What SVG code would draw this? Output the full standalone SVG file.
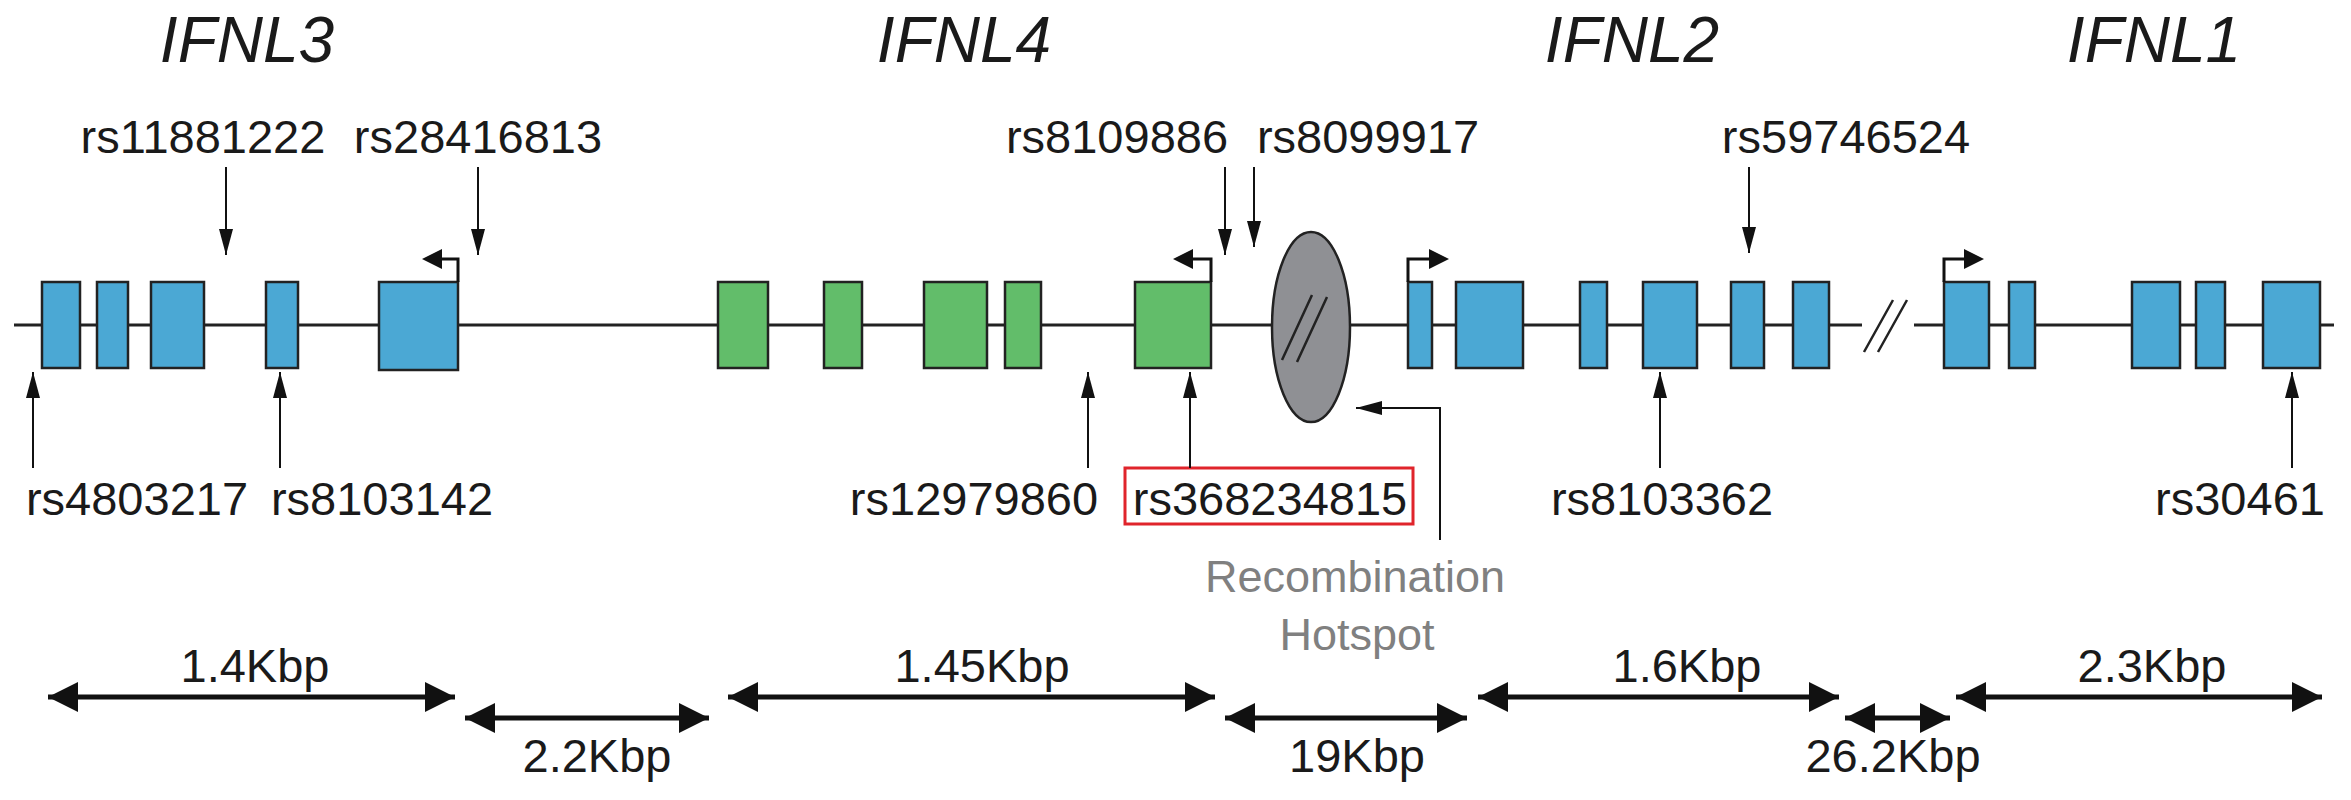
<svg xmlns="http://www.w3.org/2000/svg" width="2351" height="800" viewBox="0 0 2351 800">
<defs>
<marker id="ah" viewBox="0 0 26 14" refX="26" refY="7" markerWidth="26" markerHeight="14" markerUnits="userSpaceOnUse" orient="auto-start-reverse"><path d="M0,0L26,7L0,14z" fill="#111"/></marker>
<marker id="dh" viewBox="0 0 10 10" refX="10" refY="5" markerWidth="6" markerHeight="7" orient="auto-start-reverse"><path d="M0,0L10,5L0,10z" fill="#111"/></marker>
<marker id="ph" viewBox="0 0 10 10" refX="8" refY="5" markerWidth="20" markerHeight="20" markerUnits="userSpaceOnUse" orient="auto"><path d="M0,0L10,5L0,10z" fill="#111"/></marker>
</defs>
<style>
.b{fill:#4ba8d4;stroke:#222;stroke-width:2.5}
.g{fill:#62bd6a;stroke:#222;stroke-width:2.5}
.t{font-family:"Liberation Sans",Arial,sans-serif;font-size:47px;fill:#1a1a1a}
.h{font-family:"Liberation Sans",Arial,sans-serif;font-size:64px;font-style:italic;fill:#1a1a1a}
.gr{font-family:"Liberation Sans",Arial,sans-serif;font-size:45px;fill:#808080}
.a{stroke:#111;stroke-width:2;fill:none;marker-end:url(#ah)}
.d{stroke:#111;stroke-width:5;fill:none;marker-start:url(#dh);marker-end:url(#dh)}
.p{stroke:#111;stroke-width:3;fill:none;marker-end:url(#ph)}
</style>
<g id="titles">
<text class="h" x="247" y="62" text-anchor="middle">IFNL3</text>
<text class="h" x="964" y="62" text-anchor="middle">IFNL4</text>
<text class="h" x="1632" y="62" text-anchor="middle">IFNL2</text>
<text class="h" x="2154" y="62" text-anchor="middle">IFNL1</text>
</g>
<g id="backbone">
<line x1="14" y1="325" x2="2334" y2="325" stroke="#222" stroke-width="3"/>
</g>
<g id="hotspot">
<ellipse cx="1311" cy="327" rx="39" ry="95" fill="#8f9094" stroke="#222" stroke-width="2.5"/>
<path d="M1282,360L1312,295M1297,362L1327,297" stroke="#222" stroke-width="2.5"/>
</g>
<g id="break">
<rect x="1862" y="310" width="52" height="30" fill="#fff"/>
<path d="M1864,352L1893,300M1878,352L1907,300" stroke="#222" stroke-width="2.5"/>
</g>
<g id="IFNL3-exons">
<rect class="b" x="42" y="282" width="38" height="86"/>
<rect class="b" x="97" y="282" width="31" height="86"/>
<rect class="b" x="151" y="282" width="53" height="86"/>
<rect class="b" x="266" y="282" width="32" height="86"/>
<rect class="b" x="379" y="282" width="79" height="88"/>
</g>
<g id="IFNL4-exons">
<rect class="g" x="718" y="282" width="50" height="86"/>
<rect class="g" x="824" y="282" width="38" height="86"/>
<rect class="g" x="924" y="282" width="63" height="86"/>
<rect class="g" x="1005" y="282" width="36" height="86"/>
<rect class="g" x="1135" y="282" width="76" height="86"/>
</g>
<g id="IFNL2-exons">
<rect class="b" x="1408" y="282" width="24" height="86"/>
<rect class="b" x="1456" y="282" width="67" height="86"/>
<rect class="b" x="1580" y="282" width="27" height="86"/>
<rect class="b" x="1643" y="282" width="54" height="86"/>
<rect class="b" x="1731" y="282" width="33" height="86"/>
<rect class="b" x="1793" y="282" width="36" height="86"/>
</g>
<g id="IFNL1-exons">
<rect class="b" x="1944" y="282" width="45" height="86"/>
<rect class="b" x="2009" y="282" width="26" height="86"/>
<rect class="b" x="2132" y="282" width="48" height="86"/>
<rect class="b" x="2196" y="282" width="29" height="86"/>
<rect class="b" x="2263" y="282" width="57" height="86"/>
</g>
<g id="promoters">
<path class="p" d="M458,282V259H426"/>
<path class="p" d="M1211,282V259H1177"/>
<path class="p" d="M1408,282V259H1445"/>
<path class="p" d="M1944,282V259H1980"/>
</g>
<g id="snp-labels">
<text class="t" x="203" y="153" text-anchor="middle">rs11881222</text>
<text class="t" x="478" y="153" text-anchor="middle">rs28416813</text>
<text class="t" x="1117" y="153" text-anchor="middle">rs8109886</text>
<text class="t" x="1368" y="153" text-anchor="middle">rs8099917</text>
<text class="t" x="1846" y="153" text-anchor="middle">rs59746524</text>
<text class="t" x="137" y="515" text-anchor="middle">rs4803217</text>
<text class="t" x="382" y="515" text-anchor="middle">rs8103142</text>
<text class="t" x="974" y="515" text-anchor="middle">rs12979860</text>
<text class="t" x="1270" y="515" text-anchor="middle">rs368234815</text>
<rect x="1125" y="468" width="288" height="56" fill="none" stroke="#e0242b" stroke-width="3"/>
<text class="t" x="1662" y="515" text-anchor="middle">rs8103362</text>
<text class="t" x="2240" y="515" text-anchor="middle">rs30461</text>
<text class="gr" x="1355" y="592" text-anchor="middle">Recombination</text>
<text class="gr" x="1357" y="650" text-anchor="middle">Hotspot</text>
</g>
<g id="connectors">
<line class="a" x1="226" y1="167" x2="226" y2="255"/>
<line class="a" x1="478" y1="167" x2="478" y2="255"/>
<line class="a" x1="1225" y1="167" x2="1225" y2="255"/>
<line class="a" x1="1254" y1="167" x2="1254" y2="247"/>
<line class="a" x1="1749" y1="167" x2="1749" y2="253"/>
<line class="a" x1="33" y1="468" x2="33" y2="372"/>
<line class="a" x1="280" y1="468" x2="280" y2="372"/>
<line class="a" x1="1088" y1="468" x2="1088" y2="372"/>
<line class="a" x1="1190" y1="468" x2="1190" y2="372"/>
<line class="a" x1="1660" y1="468" x2="1660" y2="372"/>
<line class="a" x1="2292" y1="468" x2="2292" y2="372"/>
<path class="a" d="M1440,540V408H1356"/>
</g>
<g id="scale">
<line class="d" x1="48" y1="697" x2="455" y2="697"/>
<line class="d" x1="728" y1="697" x2="1215" y2="697"/>
<line class="d" x1="1478" y1="697" x2="1839" y2="697"/>
<line class="d" x1="1956" y1="697" x2="2322" y2="697"/>
<line class="d" x1="465" y1="718" x2="709" y2="718"/>
<line class="d" x1="1225" y1="718" x2="1467" y2="718"/>
<line class="d" x1="1845" y1="718" x2="1950" y2="718"/>
<text class="t" x="255" y="682" text-anchor="middle">1.4Kbp</text>
<text class="t" x="982" y="682" text-anchor="middle">1.45Kbp</text>
<text class="t" x="1687" y="682" text-anchor="middle">1.6Kbp</text>
<text class="t" x="2152" y="682" text-anchor="middle">2.3Kbp</text>
<text class="t" x="597" y="772" text-anchor="middle">2.2Kbp</text>
<text class="t" x="1357" y="772" text-anchor="middle">19Kbp</text>
<text class="t" x="1893" y="772" text-anchor="middle">26.2Kbp</text>
</g>
</svg>
